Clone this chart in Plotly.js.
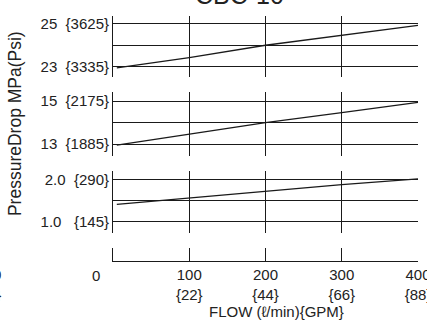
<!DOCTYPE html>
<html>
<head>
<meta charset="utf-8">
<script src="https://cdn.plot.ly/plotly-3.0.1.min.js"></script>
<style>html,body{margin:0;padding:0;background:#fff;}#chart{width:427px;height:320px;}</style>
</head>
<body>
<div id="chart"></div>
<script>
const NB = "\u00a0";
const flow = [5, 100, 200, 300, 400];
const dropTop = [22.93, 23.42, 24.0, 24.47, 24.93];
const dropMid = [12.95, 13.46, 14.0, 14.47, 14.95];
const dropLow = [1.41, 1.557, 1.714, 1.874, 2.01];

const yTicksTop = [23, 24, 25];
const yLabelsTop = ["23" + NB + NB + "{3335}", "", "25" + NB + NB + "{3625}"];
const yTicksMid = [13, 14, 15];
const yLabelsMid = ["13" + NB + NB + "{1885}", "", "15" + NB + NB + "{2175}"];
const yTicksLow = [1.0, 1.5, 2.0];
const yLabelsLow = ["1.0" + NB + NB + NB + "{145}", "", "2.0" + NB + NB + "{290}"];

const xTicks = [0, 100, 200, 300, 400];
const xLabels = ["", "100<br>{22}", "200<br>{44}", "300<br>{66}", "400<br>{88}"];

const FONT = "Liberation Sans, Arial, sans-serif";
const INK = "#1a1a1a";

function lineTrace(y, xa, ya) {
  return {x: flow, y: y, xaxis: xa, yaxis: ya, mode: "lines",
    line: {color: INK, width: 1.3}, hoverinfo: "skip", showlegend: false};
}

const data = [
  lineTrace(dropTop, "x", "y"),
  lineTrace(dropMid, "x2", "y2"),
  lineTrace(dropLow, "x3", "y3"),
  {x: [], y: [], xaxis: "x4", yaxis: "y4", mode: "lines", hoverinfo: "skip", showlegend: false}
];

function xAx(anchor, showLabels) {
  return {anchor: anchor, range: [0, 400], tickvals: xTicks, ticktext: xLabels,
    showgrid: true, gridcolor: INK, gridwidth: 1, zeroline: false,
    showticklabels: showLabels, ticks: "", showline: showLabels, linecolor: INK, linewidth: 1,
    ticklabeloverflow: "allow",
    tickfont: {family: FONT, size: 15, color: "#222"}, fixedrange: true};
}
function yAx(anchor, dom, range, tv, tt) {
  return {anchor: anchor, domain: dom, range: range, tickvals: tv, ticktext: tt,
    showgrid: tv.length > 0, gridcolor: INK, gridwidth: 1, zeroline: false,
    showline: true, linecolor: INK, linewidth: 1, ticks: "",
    tickfont: {family: FONT, size: 15, color: "#222"}, fixedrange: true};
}

const layout = {
  width: 427, height: 320,
  margin: {l: 113, r: 9, t: 15, b: 59},
  paper_bgcolor: "#fff", plot_bgcolor: "#fff",
  showlegend: false,
  xaxis: xAx("y", false),
  xaxis2: xAx("y2", false),
  xaxis3: xAx("y3", false),
  xaxis4: xAx("y4", true),
  yaxis: yAx("x", [0.748, 0.996], [22.506, 25.376], yTicksTop, yLabelsTop),
  yaxis2: yAx("x2", [0.427, 0.687], [12.45, 15.43], yTicksMid, yLabelsMid),
  yaxis3: yAx("x3", [0.114, 0.366], [0.733, 2.196], yTicksLow, yLabelsLow),
  yaxis4: Object.assign(yAx("x4", [0, 0.053], [0, 1], [], []), {showticklabels: false}),
  annotations: [
    {text: "CBC-10", xref: "paper", yref: "paper", x: 0.415, y: 1, xanchor: "center",
      yanchor: "bottom", yshift: 4, showarrow: false,
      font: {family: FONT, size: 25, color: "#222"}},
    {text: "PressureDrop MPa(Psi)", xref: "paper", yref: "paper", x: -0.321, y: 0.557,
      xanchor: "center", yanchor: "middle", textangle: -90, showarrow: false,
      font: {family: FONT, size: 17.5, color: "#222"}},
    {text: "FLOW (ℓ/min){GPM}", xref: "paper", yref: "paper", x: 0.536, y: -0.206,
      xanchor: "center", yanchor: "middle", showarrow: false,
      font: {family: FONT, size: 15, color: "#222"}},
    {text: "0", xref: "paper", yref: "paper", x: -0.0557, y: -0.057,
      xanchor: "center", yanchor: "middle", showarrow: false,
      font: {family: FONT, size: 15, color: "#222"}},
    {text: "0<br>{0}", xref: "paper", yref: "paper", x: -0.361, y: -0.012,
      xanchor: "right", yanchor: "top", align: "right", showarrow: false,
      font: {family: FONT, size: 15, color: "#222"}}
  ]
};

Plotly.newPlot("chart", data, layout, {staticPlot: true, displayModeBar: false});
</script>
</body>
</html>
